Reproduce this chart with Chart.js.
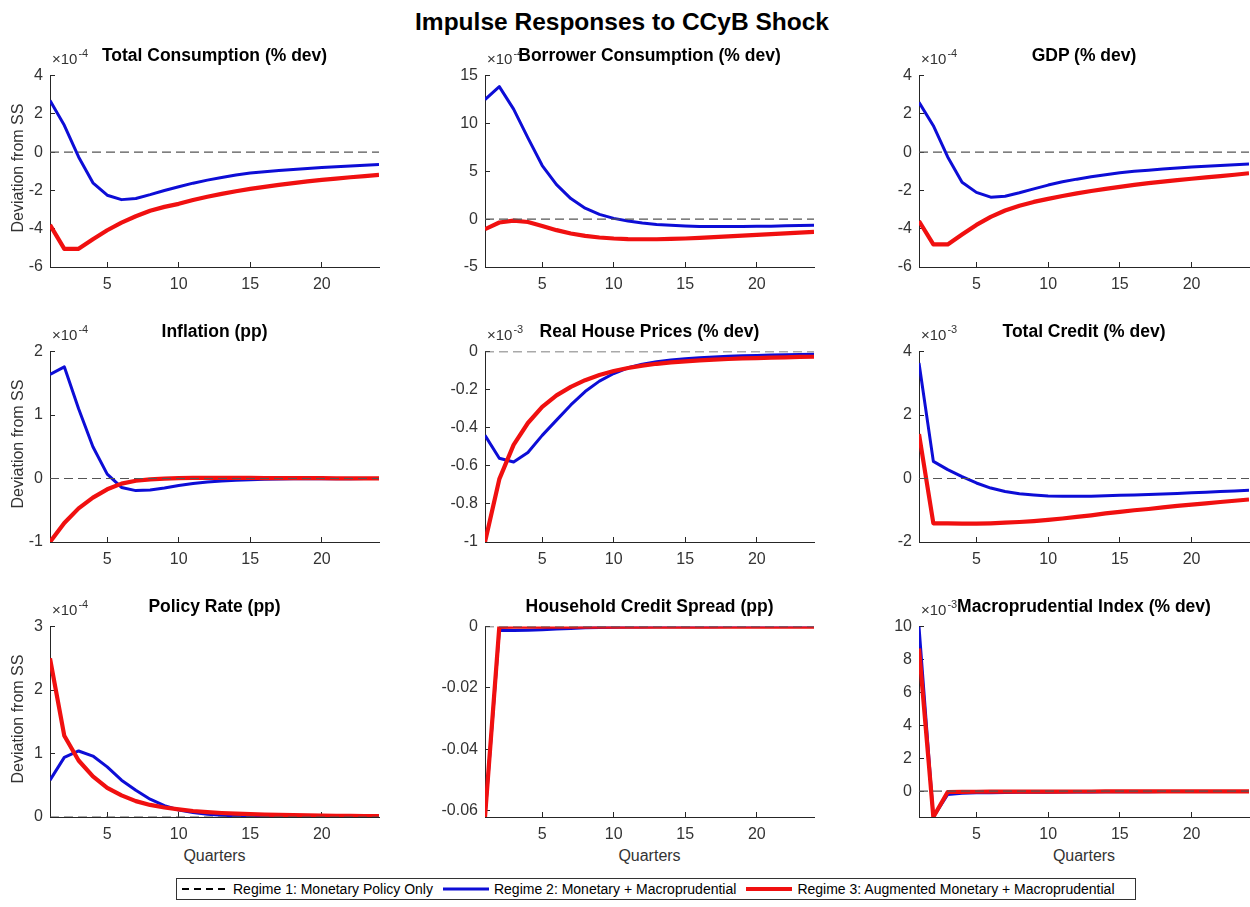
<!DOCTYPE html>
<html><head><meta charset="utf-8">
<script src="https://cdn.jsdelivr.net/npm/chart.js@4.4.1/dist/chart.umd.min.js"></script>
<style>
html,body{margin:0;padding:0;background:#fff;overflow:hidden}
#fig{position:relative;width:1250px;height:907px;overflow:hidden;background:#fff;font-family:'Liberation Sans',Arial,Helvetica,sans-serif}
#fig canvas{position:absolute}
.t{position:absolute;white-space:nowrap;line-height:1;z-index:2}
</style></head>
<body><div id="fig"></div>
<script>
// ---------------- data ----------------
const quarters = [1,2,3,4,5,6,7,8,9,10,11,12,13,14,15,16,17,18,19,20,21,22,23,24];
const xTickValues = [5,10,15,20];
const figureTitle = 'Impulse Responses to CCyB Shock';
const panelTitles = ['Total Consumption (% dev)','Borrower Consumption (% dev)','GDP (% dev)',
  'Inflation (pp)','Real House Prices (% dev)','Total Credit (% dev)',
  'Policy Rate (pp)','Household Credit Spread (pp)','Macroprudential Index (% dev)'];
const seriesNames = ['Regime 1: Monetary Policy Only','Regime 2: Monetary + Macroprudential','Regime 3: Augmented Monetary + Macroprudential'];
const yAxisTitle = 'Deviation from SS';
const xAxisTitle = 'Quarters';
// exponent multipliers shown at top-left of each axis (values below are in these units)
const exponents = ['-4','-4','-4','-4','-3','-3','-4',null,'-3'];
const yMins = [-6,-5,-6,-1,-1,-2,0,-0.0621,-1.57];
const yMaxs = [4,15,4,2,0,4,3,0,10];
const ticksTotalCons = [-6,-4,-2,0,2,4];
const ticksBorrower = [-5,0,5,10,15];
const ticksGDP = [-6,-4,-2,0,2,4];
const ticksInflation = [-1,0,1,2];
const ticksHouse = [-1,-0.8,-0.6,-0.4,-0.2,0];
const ticksCredit = [-2,0,2,4];
const ticksPolicy = [0,1,2,3];
const ticksSpread = [-0.06,-0.04,-0.02,0];
const ticksMacro = [0,2,4,6,8,10];

// Regime 1 (monetary policy only): no response
const regime1 = [0,0,0,0,0,0,0,0,0,0,0,0,0,0,0,0,0,0,0,0,0,0,0,0];

const totalConsR2 = [2.7,1.4,-0.25,-1.6,-2.25,-2.48,-2.42,-2.22,-2.0,-1.81,-1.62,-1.46,-1.32,-1.19,-1.09,-1.02,-0.96,-0.9,-0.85,-0.8,-0.76,-0.72,-0.68,-0.64];
const totalConsR3 = [-3.8,-5.05,-5.05,-4.55,-4.08,-3.68,-3.35,-3.06,-2.86,-2.7,-2.5,-2.33,-2.18,-2.04,-1.92,-1.81,-1.71,-1.62,-1.53,-1.45,-1.38,-1.31,-1.25,-1.19];

const borrowerR2 = [12.5,13.85,11.5,8.5,5.6,3.6,2.15,1.15,0.5,0.08,-0.2,-0.4,-0.55,-0.65,-0.72,-0.76,-0.78,-0.78,-0.77,-0.75,-0.73,-0.7,-0.67,-0.64];
const borrowerR3 = [-1.05,-0.35,-0.15,-0.3,-0.72,-1.15,-1.5,-1.75,-1.92,-2.02,-2.08,-2.1,-2.1,-2.07,-2.02,-1.95,-1.87,-1.8,-1.72,-1.64,-1.56,-1.48,-1.4,-1.33];

const gdpR2 = [2.6,1.38,-0.25,-1.57,-2.1,-2.35,-2.3,-2.12,-1.92,-1.72,-1.55,-1.41,-1.29,-1.18,-1.08,-1.0,-0.94,-0.88,-0.83,-0.78,-0.74,-0.7,-0.66,-0.62];
const gdpR3 = [-3.6,-4.82,-4.82,-4.3,-3.8,-3.38,-3.05,-2.8,-2.6,-2.44,-2.29,-2.15,-2.03,-1.92,-1.81,-1.71,-1.62,-1.54,-1.46,-1.39,-1.32,-1.25,-1.18,-1.1];

const inflationR2 = [1.64,1.76,1.1,0.5,0.07,-0.14,-0.19,-0.18,-0.15,-0.11,-0.08,-0.055,-0.038,-0.026,-0.018,-0.012,-0.008,-0.005,-0.004,-0.003,-0.002,-0.002,-0.001,-0.001];
const inflationR3 = [-1.0,-0.7,-0.47,-0.3,-0.17,-0.08,-0.035,-0.012,0.0,0.006,0.009,0.01,0.01,0.01,0.009,0.008,0.007,0.006,0.006,0.005,0.004,0.004,0.003,0.003];

const houseR2 = [-0.44,-0.56,-0.58,-0.53,-0.44,-0.36,-0.28,-0.21,-0.155,-0.115,-0.085,-0.066,-0.053,-0.044,-0.037,-0.032,-0.028,-0.025,-0.022,-0.02,-0.018,-0.016,-0.015,-0.014];
const houseR3 = [-1.0,-0.67,-0.49,-0.375,-0.29,-0.23,-0.185,-0.15,-0.123,-0.102,-0.086,-0.074,-0.064,-0.057,-0.051,-0.046,-0.042,-0.039,-0.036,-0.034,-0.032,-0.03,-0.028,-0.027];

const creditR2 = [3.64,0.54,0.28,0.06,-0.14,-0.3,-0.41,-0.48,-0.52,-0.55,-0.56,-0.56,-0.555,-0.545,-0.53,-0.515,-0.5,-0.485,-0.47,-0.45,-0.43,-0.41,-0.39,-0.37];
const creditR3 = [1.4,-1.41,-1.41,-1.42,-1.42,-1.41,-1.39,-1.37,-1.34,-1.3,-1.26,-1.21,-1.16,-1.1,-1.05,-1.0,-0.96,-0.91,-0.86,-0.82,-0.78,-0.74,-0.7,-0.66];

const policyR2 = [0.58,0.94,1.04,0.96,0.79,0.58,0.42,0.28,0.18,0.11,0.07,0.045,0.028,0.017,0.01,0.006,0.003,0.001,0,-0.001,-0.001,-0.001,-0.001,-0.001];
const policyR3 = [2.5,1.28,0.89,0.64,0.46,0.34,0.25,0.19,0.15,0.12,0.095,0.077,0.063,0.052,0.044,0.037,0.032,0.028,0.025,0.022,0.02,0.018,0.016,0.015];

const spreadR2 = [-0.0621,-0.0012,-0.0013,-0.0012,-0.001,-0.0008,-0.0006,-0.0004,-0.0003,-0.0002,-0.00015,-0.0001,-0.00007,-0.00005,-0.00003,-0.00002,-0.00001,0,0,0,0,0,0,0];
const spreadR3 = [-0.0621,-0.0001,0,0,0,0,0,0,0,0,0,0,0,0,0,0,0,0,0,0,0,0,0,0];

const macroR2 = [10.0,-1.57,-0.2,-0.13,-0.1,-0.09,-0.08,-0.07,-0.065,-0.06,-0.055,-0.05,-0.045,-0.04,-0.037,-0.034,-0.031,-0.028,-0.026,-0.024,-0.022,-0.02,-0.018,-0.017];
const macroR3 = [8.67,-1.57,-0.05,-0.04,-0.035,-0.03,-0.03,-0.028,-0.026,-0.024,-0.022,-0.02,-0.019,-0.018,-0.017,-0.016,-0.015,-0.014,-0.013,-0.012,-0.012,-0.011,-0.011,-0.01];

const regime2Series = [totalConsR2,borrowerR2,gdpR2,inflationR2,houseR2,creditR2,policyR2,spreadR2,macroR2];
const regime3Series = [totalConsR3,borrowerR3,gdpR3,inflationR3,houseR3,creditR3,policyR3,spreadR3,macroR3];
const yTickLists = [ticksTotalCons,ticksBorrower,ticksGDP,ticksInflation,ticksHouse,ticksCredit,ticksPolicy,ticksSpread,ticksMacro];

// ---------------- layout / style ----------------
const colL = [50,485,919], colR = [379,814,1249];
const rowT = [69,345,620], rowB = [267,542,817];
const AX = '#262626';
const C1 = '#555555', C2 = '#0d0dd6', C3 = '#f01010';
const FONT = "'Liberation Sans', Arial, Helvetica, sans-serif";

const fig = document.getElementById('fig');
function txt(s, css, html){
  const d = document.createElement('div'); d.className='t';
  if (html) d.innerHTML = s; else d.textContent = s;
  Object.assign(d.style, css); fig.appendChild(d); return d;
}

txt(figureTitle,{left:'622px',top:'10px',transform:'translateX(-50%)',fontSize:'24.5px',fontWeight:'bold',color:'#000'});

function pts(arr){ return quarters.map((q,k)=>({x:q,y:arr[k]})); }

for (let i=0;i<9;i++){
  const c=i%3, r=Math.floor(i/3);
  const L=colL[c], R=colR[c], T=rowT[r], B=rowB[r];
  const pl=60, pt=15, pr=8, pb=30;
  const cv=document.createElement('canvas');
  cv.width=R-L+pl+pr; cv.height=B-T+pt+pb;
  cv.style.left=(L-pl)+'px'; cv.style.top=(T-pt)+'px';
  cv.style.width=cv.width+'px'; cv.style.height=cv.height+'px';
  fig.appendChild(cv);
  const ticks=yTickLists[i];
  new Chart(cv,{
    type:'line',
    data:{datasets:[
      {label:seriesNames[0],data:pts(regime1),borderColor:C1,borderWidth:1.1,borderDash:[9,5],pointRadius:0,order:0},
      {label:seriesNames[2],data:pts(regime3Series[i]),borderColor:C3,borderWidth:4.2,pointRadius:0,order:1,borderJoinStyle:'round'},
      {label:seriesNames[1],data:pts(regime2Series[i]),borderColor:C2,borderWidth:3,pointRadius:0,order:2,borderJoinStyle:'round'}
    ]},
    options:{
      responsive:false, animation:false, devicePixelRatio:1,
      layout:{padding:{left:0,top:pt,right:pr,bottom:0}},
      plugins:{legend:{display:false},tooltip:{enabled:false},title:{display:false}},
      elements:{line:{tension:0}},
      scales:{
        x:{type:'linear',min:1,max:24,
          afterBuildTicks:s=>{s.ticks=xTickValues.map(v=>({value:v}));},
          afterFit:s=>{s.height=pb;},
          grid:{drawOnChartArea:false,drawTicks:true,tickLength:-5,color:AX,lineWidth:1},
          border:{display:true,color:AX,width:1},
          ticks:{padding:13,color:'#333',font:{family:FONT,size:16},maxRotation:0,autoSkip:false,callback:v=>String(v)}
        },
        y:{type:'linear',min:yMins[i],max:yMaxs[i],
          afterBuildTicks:s=>{s.ticks=ticks.map(v=>({value:v}));},
          afterFit:s=>{s.width=pl;},
          grid:{drawOnChartArea:false,drawTicks:true,tickLength:-5,color:AX,lineWidth:1},
          border:{display:true,color:AX,width:1},
          ticks:{padding:12,color:'#333',font:{family:FONT,size:16},autoSkip:false,callback:v=>String(Math.round(v*10000)/10000)}
        }
      }
    }
  });
  // exponent label
  if (exponents[i]) {
    txt('\u00d710<span style="font-size:11px;position:relative;top:-7px;margin-left:1px">'+exponents[i]+'</span>',
      {left:(L+2)+'px',top:(T-18)+'px',fontSize:'15px',color:'#333'},true);
  }
  // panel title
  txt(panelTitles[i],{left:((L+R)/2)+'px',top:(T-22)+'px',transform:'translateX(-50%)',fontSize:'17.5px',fontWeight:'bold',color:'#000'});
  if (c===0) txt(yAxisTitle,{left:'18px',top:((T+B)/2)+'px',transform:'translate(-50%,-50%) rotate(-90deg)',fontSize:'16px',color:'#333'});
  if (r===2) txt(xAxisTitle,{left:((L+R)/2)+'px',top:'848px',transform:'translateX(-50%)',fontSize:'16px',color:'#333'});
}

// ---------------- legend ----------------
const lg=document.createElement('div');
Object.assign(lg.style,{position:'absolute',left:'176px',top:'878px',width:'960px',height:'22px',border:'1px solid #333',
  boxSizing:'border-box',display:'flex',alignItems:'center',fontSize:'14px',color:'#000',zIndex:3,background:'#fff',paddingLeft:'5px'});
fig.appendChild(lg);
const samples=[
  '<svg width="46" height="6"><line x1="0" y1="3" x2="46" y2="3" stroke="#000" stroke-width="2" stroke-dasharray="7,5"/></svg>',
  '<svg width="46" height="6"><line x1="0" y1="3" x2="46" y2="3" stroke="'+C2+'" stroke-width="3"/></svg>',
  '<svg width="46" height="6"><line x1="0" y1="3" x2="46" y2="3" stroke="'+C3+'" stroke-width="4"/></svg>'
];
seriesNames.forEach((n,k)=>{
  const s=document.createElement('span'); s.innerHTML=samples[k];
  Object.assign(s.style,{display:'inline-flex',marginRight:'5px',marginLeft:k?'10px':'0'});
  lg.appendChild(s);
  const t=document.createElement('span'); t.textContent=n; t.style.whiteSpace='nowrap';
  lg.appendChild(t);
});
</script>
</body></html>
